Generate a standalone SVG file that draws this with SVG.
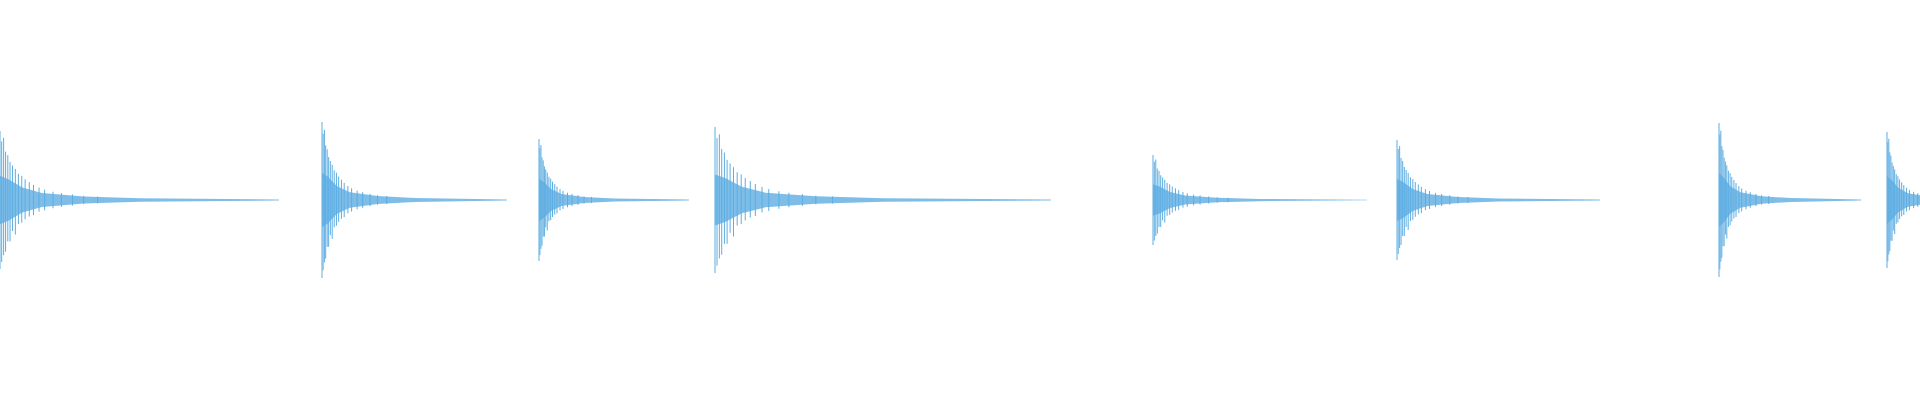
<svg xmlns="http://www.w3.org/2000/svg" xmlns:xlink="http://www.w3.org/1999/xlink" width="1920" height="400" viewBox="0 0 1920 400">
<style>.w{fill:#5dade2;fill-opacity:0.8;stroke:none}.s{stroke:#5dade2;stroke-width:1;fill:none}</style>
<defs>
<g id="b">
<polygon class="w" points="0,-0.35 3,-0.3 8,-0.18 15,-0.1 30,-0.05 50,-0.025 100,-0.008 100,0.008 50,0.025 30,0.05 15,0.1 8,0.18 3,0.3 0,0.35"/>
<path class="s" vector-effect="non-scaling-stroke" d="M0,-1V1M0.6,-0.85V0.9M1.3,-0.9V0.8M2,-0.7V0.75M2.8,-0.65V0.6M3.6,-0.55V0.6M4.5,-0.5V0.45M5.5,-0.45V0.5M6.6,-0.38V0.35M7.8,-0.35V0.33M9,-0.3V0.28M10.5,-0.26V0.24M12,-0.22V0.22M14,-0.18V0.17M16,-0.15V0.15M19,-0.12V0.12M22,-0.1V0.1M26,-0.08V0.08M30,-0.06V0.06M35,-0.05V0.05"/>
</g>
</defs>
<g id="waveform">
<use xlink:href="#b" transform="translate(0,200) scale(2.79,69)"/>
<use xlink:href="#b" transform="translate(322,200) scale(1.85,78)"/>
<use xlink:href="#b" transform="translate(539,200) scale(1.5,61)"/>
<use xlink:href="#b" transform="translate(715,200) scale(3.36,73)"/>
<use xlink:href="#b" transform="translate(1153,200) scale(2.14,45)"/>
<use xlink:href="#b" transform="translate(1397,200) scale(2.03,60)"/>
<use xlink:href="#b" transform="translate(1719,200) scale(1.42,77)"/>
<use xlink:href="#b" transform="translate(1887,200) scale(1.4,68)"/>
</g>
</svg>
